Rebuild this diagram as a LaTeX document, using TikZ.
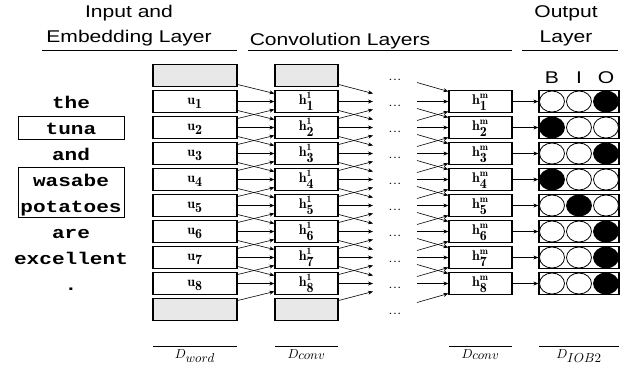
\documentclass[tikz,border=0pt]{standalone}
\usepackage{fontspec}
\usepackage{graphicx}
\usetikzlibrary{arrows.meta,calc,shapes.geometric}
\newfontfamily\hdrfont{Liberation Sans}
\newfontfamily\wordfont{Liberation Mono}
\newcommand\sx[1]{\scalebox{1.24}[1]{#1}}
\newcommand\mlab[1]{\scalebox{1.4}{#1}}
\newcommand\dlab[1]{\scalebox{1.3}{#1}}
\tikzset{
  colbox/.style={draw, line width=1.3pt, minimum height=22pt, inner sep=0pt, anchor=center},
  graybox/.style={colbox, fill=gray!18},
  arr/.style={-{Stealth[length=5pt,width=4pt]}, line width=0.6pt},
  hdr/.style={font=\hdrfont\fontsize{17}{20}\selectfont, anchor=base, inner sep=0pt},
  word/.style={font=\wordfont\bfseries\fontsize{17}{20}\selectfont, anchor=base, inner sep=0pt},
  lbl/.style={font=\normalsize, anchor=base, inner sep=0pt},
  dlbl/.style={font=\normalsize, anchor=base, inner sep=0pt},
  dotsn/.style={font=\fontsize{13}{15}\selectfont, anchor=base, inner sep=0pt},
  circ/.style={draw, ellipse, line width=0.8pt, minimum width=25pt, minimum height=21pt, inner sep=0pt},
  wbox/.style={draw, line width=0.8pt, minimum width=106pt, inner sep=0pt},
  rule/.style={line width=0.9pt}
}
\begin{document}
\begin{tikzpicture}[x=1pt,y=-1pt]
\useasboundingbox (0,0) rectangle (627,376);
% headers
\node[hdr] (h1a) at (129,17) {\sx{Input and}};
\node[hdr] (h1b) at (129,42) {\sx{Embedding Layer}};
\node[hdr] (h2) at (340,45) {\sx{Convolution Layers}};
\node[hdr] (h3a) at (566,17) {\sx{Output}};
\node[hdr] (h3b) at (566,42) {\sx{Layer}};
\draw[rule] (42,50) -- (237,50);
\draw[rule] (248,50) -- (512,50);
\draw[rule] (522,50) -- (618,50);
% B I O
\node[hdr] (lb) at (552,83) {\sx{B}};
\node[hdr] (li) at (579,83) {\sx{I}};
\node[hdr] (lo) at (606,83) {\sx{O}};
% words
\node[wbox, minimum height=23pt] (tbox) at (71,127.5) {};
\node[wbox, minimum height=50pt] (wbox) at (71,192) {};
\foreach \k/\w in {1/the,2/tuna,3/and,4/wasabe,5/potatoes,6/are,7/excellent,8/.} {
  \pgfmathsetmacro\b{75.5+26*\k+7}
  \node[word] (w\k) at (71,\b) {\sx{\w}};
}
% gray boxes
\node[graybox, minimum width=84pt] (u0) at (195,75.5) {};
\node[graybox, minimum width=84pt] (u9) at (195,309.5) {};
\node[graybox, minimum width=63pt] (a0) at (306.5,75.5) {};
\node[graybox, minimum width=63pt] (a9) at (306.5,309.5) {};
% rows
\foreach \k in {1,...,8} {
  \pgfmathsetmacro\c{75.5+26*\k}
  \pgfmathsetmacro\b{\c+2.5}
  \node[colbox, minimum width=84pt] (u\k) at (195,\c) {};
  \node[lbl] (ut\k) at (195,\b) {\mlab{$\mathbf{u}_{\textstyle\mathbf{\k}}$}};
  \node[colbox, minimum width=63pt] (a\k) at (306.5,\c) {};
  \node[lbl] (at\k) at (306.5,\b) {\mlab{$\mathbf{h}^{\mathbf{1}}_{\textstyle\mathbf{\k}}$}};
  \node[colbox, minimum width=63pt] (m\k) at (480.5,\c) {};
  \node[lbl] (mt\k) at (480.5,\b) {\mlab{$\mathbf{h}^{\mathbf{m}}_{\textstyle\mathbf{\k}}$}};
  \node[colbox, minimum width=80pt] (o\k) at (579,\c) {};
}
% dots and virtual coordinates
\foreach \k in {0,...,9} {
  \pgfmathsetmacro\c{75.5+26*\k}
  \pgfmathsetmacro\b{\c+4.5}
  \node[dotsn] (d\k) at (395,\b) {\sx{...}};
  \coordinate (p\k) at (373,\c);
  \coordinate (q\k) at (417,\c);
}
% arrows
\foreach \k [evaluate=\k as \pr using int(\k-1), evaluate=\k as \nx using int(\k+1)] in {1,...,8} {
  \draw[arr] (u\k.east) -- (a\k.west);
  \draw[arr] ($(u\pr.east)+(0,9)$) -- ($(a\k.west)+(0,-8)$);
  \draw[arr] ($(u\nx.east)+(0,-9)$) -- ($(a\k.west)+(0,8)$);
  \draw[arr] (a\k.east) -- (p\k);
  \draw[arr] ($(a\pr.east)+(0,9)$) -- ($(p\k)+(0,-8)$);
  \draw[arr] ($(a\nx.east)+(0,-9)$) -- ($(p\k)+(0,8)$);
  \draw[arr] (q\k) -- (m\k.west);
  \draw[arr] ($(q\pr)+(0,7)$) -- ($(m\k.west)+(0,-10)$);
  \draw[arr] ($(q\nx)+(0,-7)$) -- ($(m\k.west)+(0,10)$);
  \draw[arr] (m\k.east) -- (o\k.west);
}
% output circles
\foreach \k/\f in {1/3,2/1,3/3,4/1,5/2,6/3,7/3,8/3} {
  \pgfmathsetmacro\c{75.5+26*\k}
  \foreach \j/\x in {1/552,2/579,3/606} {
    \ifnum\j=\f\def\fc{black}\else\def\fc{white}\fi
    \node[circ, fill=\fc] (c\k-\j) at (\x,\c) {};
  }
}
% bottom rules and labels
\draw[rule] (153,346) -- (237,346);
\draw[rule] (275,346) -- (338,346);
\draw[rule] (449,346) -- (512,346);
\draw[rule] (539,346) -- (619,346);
\node[dlbl] (D1) at (195,358) {\dlab{$D_{\textstyle word}$}};
\node[dlbl] (D2) at (306.5,358) {\dlab{$D_{\textstyle conv}$}};
\node[dlbl] (D3) at (480.5,358) {\dlab{$D_{\textstyle conv}$}};
\node[dlbl] (D4) at (579,358) {\dlab{$D_{\textstyle IOB2}$}};
\end{tikzpicture}
\end{document}
